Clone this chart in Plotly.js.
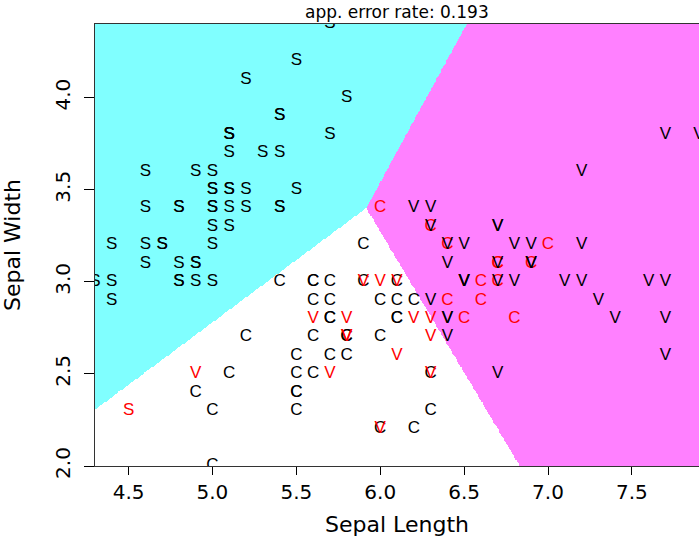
<!DOCTYPE html>
<html><head><meta charset="utf-8">
<script src="https://cdn.plot.ly/plotly-3.0.1.min.js"></script>
<style>html,body{margin:0;padding:0;background:#fff;} #chart{width:699px;height:537px;}</style>
</head><body><div id="chart"></div>
<script>
// iris data: Sepal.Length / Sepal.Width per species
const setosaLength = [5.1,4.9,4.7,4.6,5.0,5.4,4.6,5.0,4.4,4.9,5.4,4.8,4.8,4.3,5.8,5.7,5.4,5.1,5.7,5.1,5.4,5.1,4.6,5.1,4.8,5.0,5.0,5.2,5.2,4.7,4.8,5.4,5.2,5.5,4.9,5.0,5.5,4.9,4.4,5.1,5.0,4.5,4.4,5.0,5.1,4.8,5.1,4.6,5.3,5.0];
const setosaWidth  = [3.5,3.0,3.2,3.1,3.6,3.9,3.4,3.4,2.9,3.1,3.7,3.4,3.0,3.0,4.0,4.4,3.9,3.5,3.8,3.8,3.4,3.7,3.6,3.3,3.4,3.0,3.4,3.5,3.4,3.2,3.1,3.4,4.1,4.2,3.1,3.2,3.5,3.6,3.0,3.4,3.5,2.3,3.2,3.5,3.8,3.0,3.8,3.2,3.7,3.3];
const versicolorLength = [7.0,6.4,6.9,5.5,6.5,5.7,6.3,4.9,6.6,5.2,5.0,5.9,6.0,6.1,5.6,6.7,5.6,5.8,6.2,5.6,5.9,6.1,6.3,6.1,6.4,6.6,6.8,6.7,6.0,5.7,5.5,5.5,5.8,6.0,5.4,6.0,6.7,6.3,5.6,5.5,5.5,6.1,5.8,5.0,5.6,5.7,5.7,6.2,5.1,5.7];
const versicolorWidth  = [3.2,3.2,3.1,2.3,2.8,2.8,3.3,2.4,2.9,2.7,2.0,3.0,2.2,2.9,2.9,3.1,3.0,2.7,2.2,2.5,3.2,2.8,2.5,2.8,2.9,3.0,2.8,3.0,2.9,2.6,2.4,2.4,2.7,2.7,3.0,3.4,3.1,2.3,3.0,2.5,2.6,3.0,2.6,2.3,2.7,3.0,2.9,2.9,2.5,2.8];
const virginicaLength = [6.3,5.8,7.1,6.3,6.5,7.6,4.9,7.3,6.7,7.2,6.5,6.4,6.8,5.7,5.8,6.4,6.5,7.7,7.7,6.0,6.9,5.6,7.7,6.3,6.7,7.2,6.2,6.1,6.4,7.2,7.4,7.9,6.4,6.3,6.1,7.7,6.3,6.4,6.0,6.9,6.7,6.9,5.8,6.8,6.7,6.7,6.3,6.5,6.2,5.9];
const virginicaWidth  = [3.3,2.7,3.0,2.9,3.0,3.0,2.5,2.9,2.5,3.6,3.2,2.7,3.0,2.5,2.8,3.2,3.0,3.8,2.6,2.2,3.2,2.8,2.8,2.7,3.3,3.2,2.8,3.0,2.8,3.0,2.8,3.8,2.8,2.8,2.6,3.0,3.4,3.1,3.0,3.1,3.1,3.1,2.7,3.2,3.3,3.0,2.5,3.0,3.4,3.0];

const classLabels = ['S','C','V'];
const regionColors = ['#80FFFF','#FFFFFF','#FF80FF'];
const xTickVals = [4.5,5.0,5.5,6.0,6.5,7.0,7.5];
const xTickText = ['4.5','5.0','5.5','6.0','6.5','7.0','7.5'];
const yTickVals = [2.0,2.5,3.0,3.5,4.0];
const yTickText = ['2.0','2.5','3.0','3.5','4.0'];
const xLabel = 'Sepal Length';
const yLabel = 'Sepal Width';

const groups = [[setosaLength,setosaWidth],[versicolorLength,versicolorWidth],[virginicaLength,virginicaWidth]];
const allX=[], allY=[], cls=[];
groups.forEach(([a,b],k)=>{ for(let i=0;i<a.length;i++){ allX.push(a[i]); allY.push(b[i]); cls.push(k);} });
const N = allX.length;

// ---- diagonal-covariance Gaussian discriminant (shared per-feature variances)
const mean = v => v.reduce((s,x)=>s+x,0)/v.length;
const variance = v => { const m=mean(v); return v.reduce((s,x)=>s+(x-m)*(x-m),0)/(v.length-1); };
const means = groups.map(([a,b]) => [mean(a), mean(b)]);
const v1 = Math.exp(mean(groups.map(([a]) => Math.log(variance(a)))));
const v2 = Math.exp(mean(groups.map(([,b]) => Math.log(variance(b)))));
const logPrior = groups.map(([a]) => Math.log(a.length/N));
function classify(x,y){ let best=0, bv=-Infinity; for(let k=0;k<means.length;k++){ const dx=x-means[k][0], dy=y-means[k][1]; const s=-0.5*(dx*dx/v1+dy*dy/v2)+logPrior[k]; if(s>bv){bv=s;best=k;} } return best; }

const labels=[], colors=[]; let errors=0;
for(let i=0;i<N;i++){ labels.push(classLabels[cls[i]]); const wrong=classify(allX[i],allY[i])!==cls[i]; if(wrong) errors++; colors.push(wrong?'#FF0000':'#000000'); }
const errRate = errors/N;

const xMin=Math.min(...allX), xMax=Math.max(...allX), yMin=Math.min(...allY), yMax=Math.max(...allY);
const nx=720, ny=480; const gx=[], gy=[], gz=[];
for(let i=0;i<nx;i++) gx.push(xMin+(i+0.5)*(xMax-xMin)/nx);
for(let j=0;j<ny;j++) gy.push(yMin+(j+0.5)*(yMax-yMin)/ny);
for(let j=0;j<ny;j++){ const row=[]; for(let i=0;i<nx;i++) row.push(classify(gx[i],gy[j])); gz.push(row); }

const axisFont = {family:'DejaVu Sans, Liberation Sans, Arial', size:20, color:'#000'};
const traces = [
  {type:'heatmap', x:gx, y:gy, z:gz, zmin:0, zmax:2, showscale:false, hoverinfo:'skip', zsmooth:false,
   colorscale:[[0,regionColors[0]],[0.5,regionColors[1]],[1,regionColors[2]]]},
  {type:'scatter', mode:'text', x:allX, y:allY, text:labels, textposition:'middle center', cliponaxis:true, hoverinfo:'skip',
   textfont:{family:'Liberation Sans, Arial', size:17, color:colors}}
];
const layout = {
  width:699, height:537, margin:{l:95,r:0,t:24,b:71}, paper_bgcolor:'#fff', plot_bgcolor:'#fff', showlegend:false,
  xaxis:{range:[xMin,xMax], tickvals:xTickVals, ticktext:xTickText, ticks:'outside', ticklen:8, tickcolor:'#000', tickwidth:1,
    showline:true, mirror:true, linecolor:'#333', linewidth:1, showgrid:false, zeroline:false, tickfont:axisFont,
    title:{text:xLabel, font:{family:'DejaVu Sans, Liberation Sans, Arial', size:22, color:'#000'}, standoff:14}, automargin:false},
  yaxis:{range:[yMin,yMax], tickvals:yTickVals, ticktext:yTickText, ticks:'outside', ticklen:10, tickcolor:'#000', tickwidth:1, tickangle:-90,
    ticklabelstandoff:6,
    showline:true, mirror:false, linecolor:'#333', linewidth:1, showgrid:false, zeroline:false, tickfont:axisFont,
    title:{text:yLabel, font:{family:'DejaVu Sans, Liberation Sans, Arial', size:22, color:'#000'}, standoff:25}, automargin:false},
  annotations:[{xref:'paper', yref:'paper', x:0.5, y:1, yanchor:'bottom', xanchor:'center', showarrow:false,
    text:'app. error rate: '+errRate.toFixed(3), font:{family:'DejaVu Sans, Liberation Sans, Arial', size:17, color:'#000'}}]
};
Plotly.newPlot('chart', traces, layout, {displayModeBar:false, staticPlot:true});
</script></body></html>
